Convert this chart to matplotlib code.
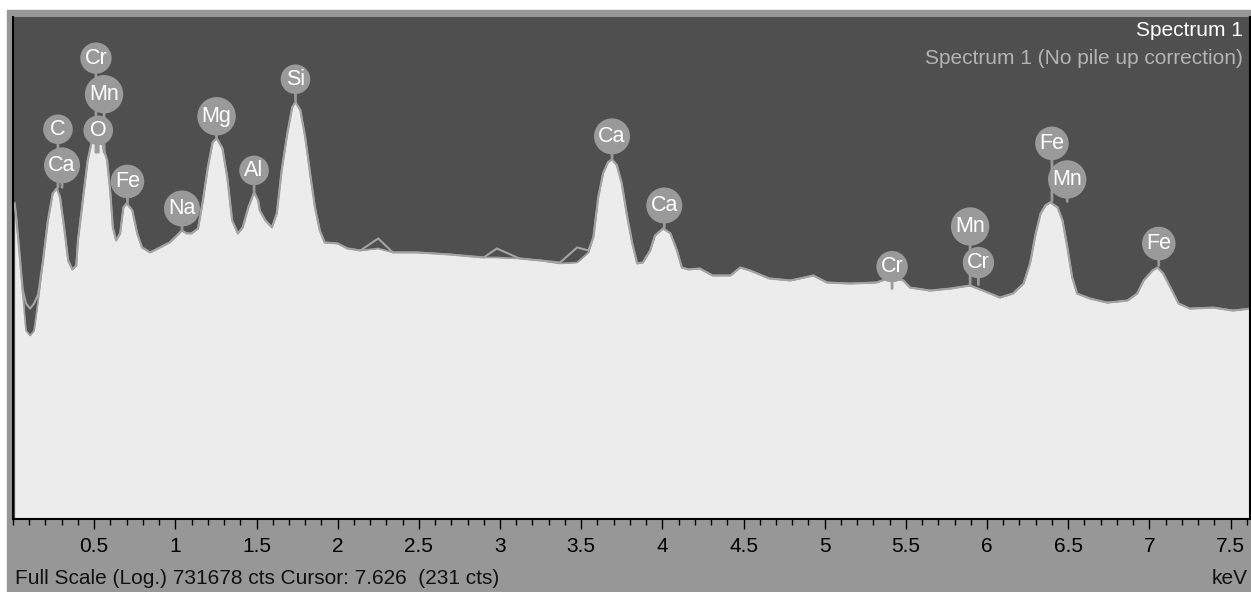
import numpy as np
import matplotlib.pyplot as plt
from matplotlib.patches import Rectangle
from matplotlib.ticker import MultipleLocator, NullLocator

plt.rcParams["font.family"] = ["Liberation Sans", "DejaVu Sans"]

# spectrum: energy (keV) and counts
energy = [
    0.01, 0.02, 0.04, 0.06, 0.08, 0.105, 0.13, 0.155, 0.185, 0.215,
    0.245, 0.27, 0.29, 0.315, 0.34, 0.365, 0.39, 0.40, 0.43, 0.46,
    0.487, 0.518, 0.555, 0.58, 0.60, 0.615, 0.635, 0.66, 0.68, 0.70,
    0.735, 0.765, 0.795, 0.845, 0.905, 0.965, 1.01, 1.04, 1.07, 1.10,
    1.14, 1.17, 1.20, 1.23, 1.255, 1.29, 1.32, 1.35, 1.385, 1.415,
    1.45, 1.485, 1.51, 1.52, 1.555, 1.595, 1.625, 1.655, 1.69, 1.72,
    1.74, 1.77, 1.80, 1.83, 1.86, 1.89, 1.92, 2.00, 2.06, 2.14,
    2.25, 2.34, 2.49, 2.69, 2.90, 2.98, 3.12, 3.25, 3.37, 3.475,
    3.545, 3.575, 3.605, 3.635, 3.665, 3.69, 3.72, 3.75, 3.78, 3.815,
    3.845, 3.88, 3.925, 3.955, 4.005, 4.05, 4.09, 4.12, 4.16, 4.23,
    4.31, 4.42, 4.48, 4.54, 4.66, 4.79, 4.93, 5.015, 5.155, 5.32,
    5.405, 5.485, 5.525, 5.65, 5.775, 5.895, 5.975, 6.08, 6.16, 6.225,
    6.265, 6.30, 6.33, 6.36, 6.39, 6.435, 6.465, 6.495, 6.525, 6.555,
    6.635, 6.74, 6.865, 6.925, 6.965, 7.02, 7.05, 7.085, 7.13, 7.18,
    7.25, 7.395, 7.515, 7.62,
]
counts = [
    4860, 3340, 1265, 430, 159, 139, 159, 356, 1047, 3076,
    6370, 7290, 5720, 2548, 1047, 822, 915, 1795, 5275, 15500,
    26600, 48100, 22000, 15500, 6370, 2548, 1795, 2168, 4370, 4860,
    4030, 2168, 1486, 1300, 1486, 1700, 2053, 2350, 2168, 2168,
    2480, 5275, 12830, 25200, 28050, 21430, 9800, 3076, 2168, 2548,
    4370, 6545, 5275, 4030, 3076, 2548, 3715, 11840, 32100, 64700,
    74000, 59700, 28800, 10920, 4370, 2350, 1700, 1655, 1446, 1371,
    1446, 1300, 1300, 1231, 1135, 1135, 1105, 1047, 966, 992,
    1300, 1946, 5720, 10920, 14690, 15920, 13550, 8340, 3715, 1655,
    966, 992, 1371, 2053, 2480, 2168, 1371, 867, 822, 844,
    699, 699, 867, 800, 645, 611, 699, 579, 563, 579,
    662, 611, 506, 466, 492, 534, 466, 386, 430, 563,
    966, 2168, 3715, 4610, 5000, 4370, 3076, 1486, 662, 430,
    376, 337, 356, 430, 611, 800, 867, 738, 506, 329,
    287, 295, 272, 287,
]
# same spectrum without pile up correction (grey trace)
counts_raw = [
    4860, 3340, 1265, 480, 330, 287, 330, 420, 1047, 3076,
    6370, 7290, 5720, 2548, 1047, 822, 915, 1795, 5275, 15500,
    26600, 48100, 22000, 15500, 6370, 2548, 1795, 2168, 4370, 4860,
    4030, 2168, 1486, 1300, 1486, 1700, 2053, 2350, 2168, 2168,
    2480, 5275, 12830, 25200, 28050, 21430, 9800, 3076, 2168, 2548,
    4370, 6545, 5275, 4030, 3076, 2548, 3715, 11840, 32100, 64700,
    74000, 59700, 28800, 10920, 4370, 2350, 1700, 1655, 1446, 1371,
    1893, 1300, 1300, 1231, 1135, 1446, 1105, 1047, 992, 1486,
    1371, 1946, 5720, 10920, 14690, 15920, 13550, 8340, 3715, 1655,
    966, 992, 1371, 2053, 2480, 2168, 1371, 867, 822, 844,
    699, 699, 867, 800, 645, 611, 699, 579, 563, 579,
    662, 611, 506, 466, 492, 534, 466, 386, 430, 563,
    966, 2168, 3715, 4610, 5000, 4370, 3076, 1486, 662, 430,
    376, 337, 356, 430, 611, 800, 867, 738, 506, 329,
    287, 295, 272, 287,
]

# peak labels: element, energy of stem, counts where the stem ends, stack level
label_names = ["C", "Ca", "Cr", "Mn", "O", "Fe", "Na", "Mg", "Al", "Si",
               "Ca", "Ca", "Cr", "Mn", "Cr", "Fe", "Mn", "Fe"]
label_energy = [0.277, 0.302, 0.511, 0.561, 0.525, 0.705, 1.041, 1.254, 1.485, 1.74,
                3.69, 4.012, 5.415, 5.896, 5.947, 6.40, 6.494, 7.058]
label_base = [7490, 7490, 19230, 19230, 19230, 4860, 2350, 28050, 6545, 76000,
              16360, 2548, 492, 548, 548, 5130, 5130, 915]
label_level = [1, 0, 2, 1, 0, 0, 0, 0, 0, 0,
               0, 0, 0, 1, 0, 1, 0, 0]

full_scale = 731678
tick_labels = ["0.5", "1", "1.5", "2", "2.5", "3", "3.5", "4",
               "4.5", "5", "5.5", "6", "6.5", "7", "7.5"]

W, H = 1251, 592
fig = plt.figure(figsize=(W / 100, H / 100), dpi=100)
fig.patch.set_facecolor("white")
fig.add_artist(Rectangle((7 / W, 0), 1 - 7 / W, (H - 10) / H,
                         transform=fig.transFigure, color="#979797", zorder=0))

ax = fig.add_axes([13 / W, 1 - 519 / H, (1250 - 13) / W, (519 - 17) / H])
ax.set_facecolor("#4f4f4f")
ax.set_yscale("log")

ax.fill_between(energy, counts, 1, color="#ececec", lw=0, zorder=1)
ax.plot(energy, counts, color="#a0a0a0", lw=1.2, zorder=2)
ax.plot(energy, counts_raw, color="#a3a3a3", lw=1.5, zorder=2)

ax.set_xlim(0, 7.62)
ax.set_ylim(1, full_scale)
ax.yaxis.set_major_locator(NullLocator())
ax.yaxis.set_minor_locator(NullLocator())
ax.set_xticks(np.arange(0.5, 7.6, 0.5))
ax.set_xticklabels(tick_labels)
ax.xaxis.set_minor_locator(MultipleLocator(0.1))
ax.tick_params(axis="x", which="major", direction="out", length=7, width=1,
               pad=6, labelsize=15, colors="black")
ax.tick_params(axis="x", which="minor", direction="out", length=4, width=1,
               colors="black")
for side in ["left", "right", "bottom"]:
    ax.spines[side].set_color("black")
    ax.spines[side].set_linewidth(1.5)
ax.spines["top"].set_visible(False)

for name, e, base, lvl in zip(label_names, label_energy, label_base, label_level):
    ax.annotate(name, xy=(e, base), xytext=(0, 15.8 + 26 * lvl),
                textcoords="offset points", ha="center", va="center",
                color="white", fontsize=15.5, zorder=6 - lvl,
                bbox=dict(boxstyle="circle,pad=0.2", fc="#9a9a9a", ec="none"),
                arrowprops=dict(arrowstyle="-", color="#9a9a9a", lw=2,
                                shrinkA=0, shrinkB=0))

fig.text(1243 / W, 1 - 31 / H, "Spectrum 1", color="white", fontsize=15,
         ha="right", va="center")
fig.text(1243 / W, 1 - 59 / H, "Spectrum 1 (No pile up correction)",
         color="#b4b4b4", fontsize=15, ha="right", va="center")
fig.text(15 / W, 1 - 578 / H,
         "Full Scale (Log.) %d cts Cursor: 7.626  (231 cts)" % full_scale,
         color="#111111", fontsize=15, ha="left", va="center")
fig.text(1248 / W, 1 - 578 / H, "keV", color="#111111", fontsize=15,
         ha="right", va="center")

fig.savefig("out.png", dpi=100)
